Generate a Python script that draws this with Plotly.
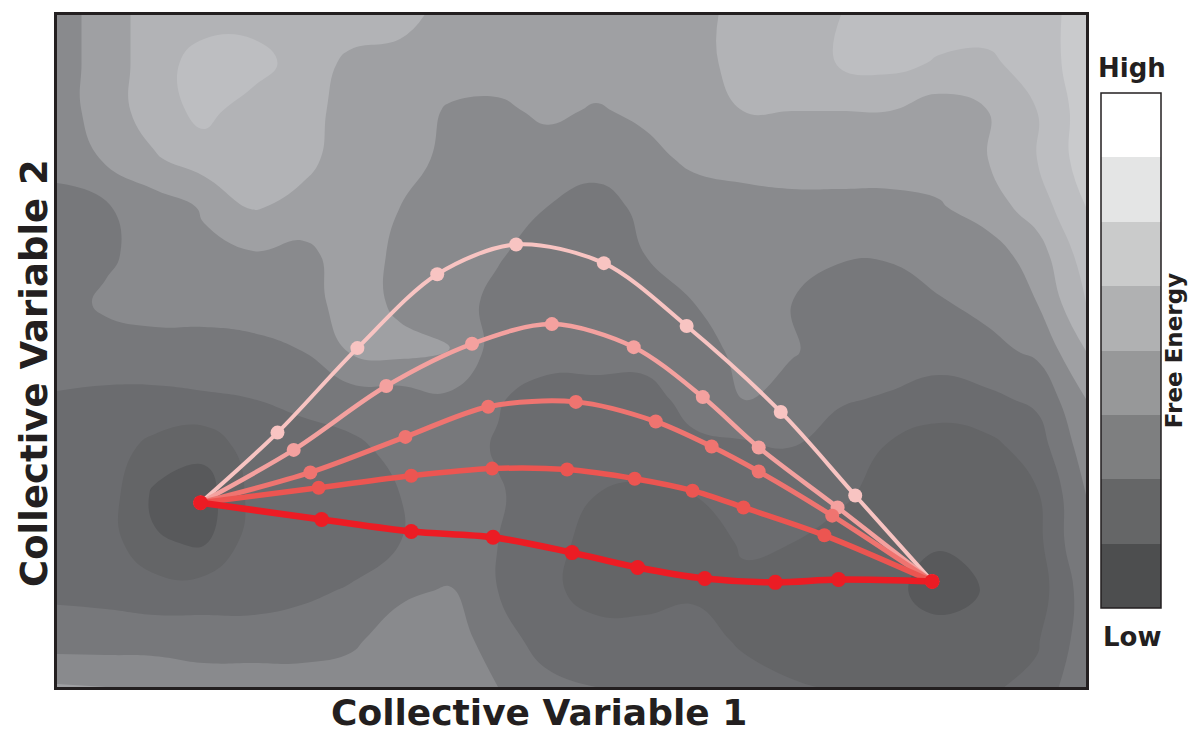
import plotly.graph_objects as go

# ---------------- data ----------------
# free-energy level map (rows listed top -> bottom)
cv1_grid = list(range(22))
cv2_grid = list(range(15))
free_energy_rows_top_to_bottom = [
    [4.0, 5.0, 6.0, 6.0, 6.0, 6.0, 6.0, 6.0, 5.0, 5.0, 5.0, 5.0, 5.0, 5.0, 6.0, 6.0, 6.5, 7.0, 7.0, 7.0, 7.0, 8.0],
    [4.0, 5.0, 6.0, 7.0, 7.0, 6.0, 5.3, 5.0, 5.0, 5.0, 5.0, 5.0, 5.0, 5.0, 6.0, 6.0, 6.6, 6.8, 6.4, 6.3, 7.0, 8.0],
    [4.0, 5.0, 6.0, 6.8, 6.0, 6.0, 5.0, 5.0, 4.4, 4.3, 4.7, 4.4, 4.7, 5.0, 5.5, 5.5, 5.5, 5.5, 5.0, 5.5, 6.5, 8.0],
    [4.0, 4.6, 5.4, 6.0, 6.0, 5.8, 5.0, 5.0, 4.2, 4.0, 4.0, 4.0, 4.2, 4.7, 5.0, 5.0, 5.0, 5.0, 5.0, 5.5, 6.5, 8.0],
    [3.0, 3.4, 4.0, 4.6, 5.6, 5.2, 5.0, 4.5, 4.0, 3.8, 3.5, 3.0, 3.8, 4.0, 4.0, 4.2, 4.2, 4.2, 4.4, 5.0, 6.0, 7.5],
    [3.0, 3.3, 4.0, 4.3, 4.4, 4.2, 5.0, 4.3, 4.0, 3.6, 3.0, 3.0, 3.5, 4.0, 4.0, 4.0, 3.6, 3.6, 4.0, 4.0, 5.0, 7.0],
    [3.0, 3.7, 4.0, 4.0, 4.0, 4.0, 5.0, 4.3, 4.0, 3.2, 3.0, 3.0, 3.0, 3.5, 4.0, 3.5, 3.0, 3.0, 3.4, 3.8, 4.5, 6.5],
    [3.0, 3.0, 3.0, 3.0, 3.2, 3.5, 4.6, 4.8, 4.6, 3.0, 3.0, 3.0, 3.0, 3.0, 3.8, 3.6, 3.0, 3.0, 3.0, 3.2, 3.7, 5.5],
    [2.4, 2.3, 2.3, 2.4, 2.5, 2.8, 3.0, 3.0, 3.3, 2.6, 2.0, 2.0, 2.0, 3.0, 3.6, 3.0, 2.6, 2.4, 2.0, 2.3, 2.7, 4.5],
    [2.0, 2.0, 1.2, 0.8, 2.0, 2.0, 2.3, 2.8, 3.0, 2.4, 2.0, 2.0, 2.0, 2.2, 2.3, 2.5, 2.0, 1.4, 1.0, 1.2, 2.0, 4.0],
    [2.0, 2.0, 0.3, 0.0, 1.8, 2.0, 2.0, 2.5, 3.0, 2.6, 2.0, 1.5, 1.3, 1.5, 2.0, 2.0, 1.7, 1.0, 1.0, 1.0, 1.4, 3.5],
    [2.0, 2.0, 0.6, 0.4, 2.0, 2.0, 2.0, 2.5, 3.0, 2.5, 2.0, 1.0, 1.0, 1.0, 1.6, 1.5, 1.0, 0.8, 0.6, 1.0, 1.2, 3.5],
    [2.3, 2.2, 2.0, 2.0, 2.0, 2.3, 2.6, 3.3, 3.6, 2.5, 1.8, 1.0, 1.0, 1.3, 1.3, 1.0, 1.0, 0.8, 0.0, 0.6, 1.0, 3.0],
    [3.0, 3.0, 3.0, 3.0, 3.0, 3.0, 3.3, 4.0, 4.0, 3.0, 2.0, 2.0, 2.0, 2.0, 1.3, 1.0, 1.0, 1.0, 1.0, 1.0, 1.4, 3.0],
    [4.6, 4.5, 4.4, 4.0, 4.0, 4.0, 4.0, 4.0, 4.0, 3.5, 2.8, 2.5, 2.3, 2.2, 2.0, 1.6, 1.4, 1.4, 1.4, 1.4, 1.7, 3.5],
]

# transition paths (CV1, CV2), from basin A to basin B
path1_cv1 = [2.93, 4.50, 6.13, 7.76, 9.37, 11.16, 12.85, 14.77, 16.29, 17.86]
path1_cv2 = [3.84, 5.30, 7.06, 8.60, 9.22, 8.83, 7.52, 5.73, 3.99, 2.20]
path2_cv1 = [2.93, 4.83, 6.72, 8.47, 10.10, 11.77, 13.18, 14.32, 15.93, 17.86]
path2_cv2 = [3.84, 4.94, 6.27, 7.15, 7.56, 7.08, 6.04, 4.99, 3.74, 2.20]
path3_cv1 = [2.93, 5.17, 7.11, 8.80, 10.59, 12.22, 13.36, 14.32, 15.82, 17.86]
path3_cv2 = [3.84, 4.47, 5.21, 5.84, 5.94, 5.53, 5.01, 4.49, 3.57, 2.20]
path4_cv1 = [2.93, 5.34, 7.23, 8.88, 10.41, 11.79, 12.97, 14.01, 15.66, 17.86]
path4_cv2 = [3.84, 4.15, 4.40, 4.55, 4.53, 4.34, 4.09, 3.74, 3.16, 2.20]
path5_cv1 = [2.93, 5.40, 7.23, 8.90, 10.51, 11.85, 13.22, 14.66, 15.95, 17.86]
path5_cv2 = [3.84, 3.49, 3.24, 3.12, 2.80, 2.49, 2.26, 2.18, 2.24, 2.20]

map_levels = ['#58595b', '#646567', '#6b6c6f', '#77787b', '#898a8d',
              '#9fa0a3', '#b2b3b6', '#bdbec1', '#c9cacc', '#d6d7d9']
legend_levels = ['#4d4e4f', '#656667', '#7e7f80', '#979899',
                 '#b0b1b2', '#cacbcb', '#e4e5e5', '#ffffff']


def discrete_scale(cols):
    n = len(cols)
    sc = []
    for k, c in enumerate(cols):
        sc.append([k / n, c])
        sc.append([(k + 1) / n, c])
    return sc


z = free_energy_rows_top_to_bottom[::-1]

fig = go.Figure()
fig.add_trace(go.Contour(
    x=cv1_grid, y=cv2_grid, z=z,
    colorscale=discrete_scale(map_levels), zmin=-0.5, zmax=9.5, zauto=False,
    autocontour=False,
    contours=dict(start=0.5, end=8.5, size=1, coloring='fill', showlines=False),
    line=dict(width=0, smoothing=1.3),
    showscale=False, hoverinfo='skip'))

paths = [
    (path1_cv1, path1_cv2, '#f8c4c2', 4.0, 14),
    (path2_cv1, path2_cv2, '#f4a19f', 4.5, 14),
    (path3_cv1, path3_cv2, '#ef7470', 5.0, 14),
    (path4_cv1, path4_cv2, '#ec5551', 5.5, 14),
    (path5_cv1, path5_cv2, '#ec1c24', 6.5, 15),
]
for xs, ys, col, w, ms in paths:
    fig.add_trace(go.Scatter(
        x=xs, y=ys, mode='lines+markers',
        line=dict(color=col, width=w, shape='spline', smoothing=0.9),
        marker=dict(color=col, size=ms),
        showlegend=False, hoverinfo='skip'))

FONT = 'DejaVu Sans, Liberation Sans, Arial'
INK = '#231f20'

# colour key
fig.add_trace(go.Scatter(
    x=[None], y=[None], mode='markers', showlegend=False, hoverinfo='skip',
    marker=dict(color=[0], colorscale=discrete_scale(legend_levels), cmin=0, cmax=8,
                showscale=True,
                colorbar=dict(
                    x=(1103 - 57) / 1031, xanchor='left', xpad=0, ypad=0,
                    y=(687 - 349.5) / 674, yanchor='middle',
                    lenmode='pixels', len=515, thicknessmode='pixels', thickness=60,
                    outlinecolor=INK, outlinewidth=1.5,
                    showticklabels=False, ticks='',
                    title=dict(text='Free Energy', side='right',
                               font=dict(family=FONT, size=23,
                                         color=INK, weight='bold')))))
)

bold = dict(family=FONT, color=INK, weight='bold')


def label(text, px, py, size, angle=0):
    fig.add_annotation(text=text, x=(px - 57) / 1031, y=(687 - py) / 674,
                       xref='paper', yref='paper', showarrow=False,
                       xanchor='center', yanchor='middle', textangle=angle,
                       font=dict(size=size, **bold))


label('High', 1134, 66, 26)
label('Low', 1134, 637, 26)
label('Collective Variable 1', 540, 713, 36)
label('Collective Variable 2', 35, 372, 37, angle=-90)

axis_common = dict(showgrid=False, zeroline=False, showticklabels=False, ticks='',
                   showline=True, mirror=True, linecolor=INK, linewidth=3)
fig.update_xaxes(range=[0, 21], **axis_common)
fig.update_yaxes(range=[0, 14], **axis_common)
fig.update_layout(width=1200, height=735,
                  margin=dict(l=57, r=112, t=13, b=48),
                  paper_bgcolor='white', plot_bgcolor='#77787b')

fig.write_html('out.html', config={'displayModeBar': False},
               post_script="document.body.style.margin='0';")
